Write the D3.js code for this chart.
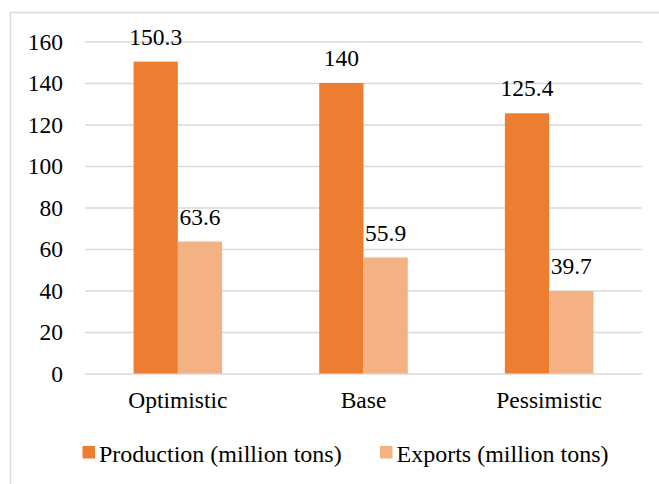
<!DOCTYPE html>
<html>
<head>
<meta charset="utf-8">
<script src="https://cdn.jsdelivr.net/npm/d3@7/dist/d3.min.js"></script>
</head>
<body style="margin:0">
<svg id="chart" width="659" height="484" font-family="Liberation Serif"></svg>
<script>
// Scenario categories and series values
const categories = ["Optimistic", "Base", "Pessimistic"];
const production = [150.3, 140, 125.4];
const exports = [63.6, 55.9, 39.7];
const seriesNames = ["Production (million tons)", "Exports (million tons)"];
const seriesColors = ["#ED7D31", "#F4B183"];
const yTicks = [0, 20, 40, 60, 80, 100, 120, 140, 160];

const svg = d3.select("#chart");
const W = 659, H = 484;
const plot = { left: 85, right: 642, top: 41.5, bottom: 373.5 };
const fontSize = 23.5;
const legendFontSize = 24;
const serif = "Liberation Serif";

// Chart area frame
svg.append("rect")
  .attr("x", 10.5).attr("y", 12.5)
  .attr("width", W + 10).attr("height", H + 10)
  .attr("fill", "#fff")
  .attr("stroke", "#d9d9d9").attr("stroke-width", 1.5);

const x0 = d3.scaleBand()
  .domain(categories)
  .range([plot.left, plot.right])
  .paddingInner(0.523)
  .paddingOuter(0.2617);

const x1 = d3.scaleBand()
  .domain([0, 1])
  .range([0, x0.bandwidth()]);

const y = d3.scaleLinear()
  .domain([0, 160])
  .range([plot.bottom, plot.top]);

// Horizontal gridlines and y tick labels via axis
const yAxis = d3.axisLeft(y)
  .tickValues(yTicks)
  .tickSize(-(plot.right - plot.left))
  .tickPadding(22)
  .tickFormat(d3.format("d"));

const gy = svg.append("g")
  .attr("transform", `translate(${plot.left},0)`)
  .call(yAxis)
  .attr("font-family", serif)
  .attr("font-size", fontSize);
gy.select(".domain").remove();
gy.selectAll(".tick line")
  .attr("stroke", "#d9d9d9").attr("stroke-width", 1.5);
gy.selectAll(".tick text")
  .attr("font-family", serif)
  .attr("font-size", fontSize)
  .attr("fill", "#000");

// Category axis labels
const xAxis = d3.axisBottom(x0).tickSize(0).tickPadding(18);
const gx = svg.append("g")
  .attr("transform", `translate(0,${plot.bottom})`)
  .call(xAxis)
  .attr("font-family", serif)
  .attr("font-size", fontSize);
gx.select(".domain").remove();
gx.selectAll(".tick text")
  .attr("font-family", serif)
  .attr("font-size", fontSize)
  .attr("fill", "#000");

// Bars and value labels
const rows = categories.map((c, i) => ({ cat: c, vals: [production[i], exports[i]] }));
const groups = svg.append("g").selectAll("g")
  .data(rows).join("g")
  .attr("transform", d => `translate(${x0(d.cat)},0)`);

groups.selectAll("rect")
  .data(d => d.vals.map((v, s) => ({ v, s })))
  .join("rect")
  .attr("x", d => x1(d.s))
  .attr("width", x1.bandwidth())
  .attr("y", d => y(d.v))
  .attr("height", d => y(0) - y(d.v))
  .attr("fill", d => seriesColors[d.s]);

groups.selectAll("text.val")
  .data(d => d.vals.map((v, s) => ({ v, s })))
  .join("text")
  .attr("class", "val")
  .attr("x", d => x1(d.s) + x1.bandwidth() / 2)
  .attr("y", d => y(d.v) - 17)
  .attr("text-anchor", "middle")
  .attr("font-family", serif)
  .attr("font-size", fontSize)
  .attr("fill", "#000")
  .text(d => d.v);

// Legend
const legendX = [82.5, 380];
const legend = svg.append("g").selectAll("g")
  .data(seriesNames).join("g")
  .attr("transform", (d, i) => `translate(${legendX[i]},446)`);
legend.append("rect")
  .attr("width", 12.5).attr("height", 12.5)
  .attr("fill", (d, i) => seriesColors[i]);
legend.append("text")
  .attr("x", 16.5).attr("y", 15.5)
  .attr("font-family", serif)
  .attr("font-size", legendFontSize)
  .attr("fill", "#000")
  .text(d => d);
</script>
</body>
</html>
